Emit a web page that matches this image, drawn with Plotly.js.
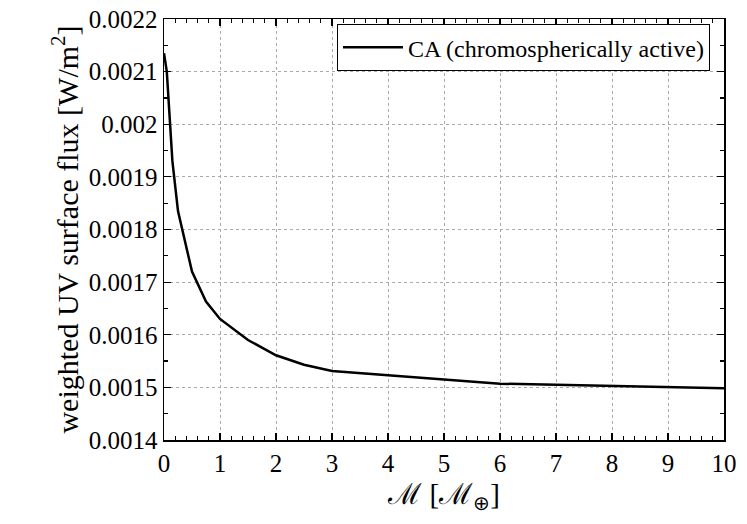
<!DOCTYPE html>
<html>
<head>
<meta charset="utf-8">
<script src="https://cdn.plot.ly/plotly-3.0.1.min.js"></script>
<style>
  html, body { margin: 0; padding: 0; background: #fff; }
  #graph { width: 747px; height: 524px; }
</style>
</head>
<body>
<div id="graph"></div>
<script>
// planet mass in Earth masses
var massa = [0, 0.05, 0.15, 0.25, 0.5, 0.75, 1, 1.5, 2, 2.5, 3, 6, 10];
// weighted UV surface flux, chromospherically active star
var fluxoCA = [0.002135, 0.0021, 0.00193, 0.001835, 0.00172, 0.001663, 0.00163,
               0.00159, 0.001561, 0.001543, 0.001531, 0.001507, 0.0014985];

var yTicks = [0.0014, 0.0015, 0.0016, 0.0017, 0.0018, 0.0019, 0.002, 0.0021, 0.0022];
var yTickText = ["0.0014", "0.0015", "0.0016", "0.0017", "0.0018", "0.0019", "0.002", "0.0021", "0.0022"];
var xTicks = [0, 1, 2, 3, 4, 5, 6, 7, 8, 9, 10];
var xTickText = ["0", "1", "2", "3", "4", "5", "6", "7", "8", "9", "10"];

var fonte = "Liberation Serif";

var trace1 = {
    x: massa,
    y: fluxoCA,
    name: "CA (chromospherically active)",
    type: "scatter",
    mode: "lines",
    line: { color: "#000", width: 2.5 }
};

var layout = {
    width: 747,
    height: 524,
    margin: { l: 164, r: 23, t: 19, b: 84 },
    paper_bgcolor: "#fff",
    plot_bgcolor: "#fff",
    showlegend: true,
    font: { family: fonte, size: 24, color: "#000" },
    xaxis: {
        range: [0, 10],
        showline: true,
        linecolor: "#000",
        linewidth: 1.5,
        mirror: "allticks",
        ticks: "inside",
        ticklen: 7,
        tickwidth: 1.2,
        tickcolor: "#000",
        showgrid: true,
        gridcolor: "#aaa",
        griddash: "dot",
        gridwidth: 1,
        zeroline: false,
        tickmode: "array",
        tickvals: xTicks,
        ticktext: xTickText,
        tickfont: { family: fonte, size: 25, color: "#000" },
        minor: { dtick: 0.2, ticks: "inside", ticklen: 4, tickcolor: "#000", showgrid: false },
        title: { text: "ℳ [ℳ<sub>⊕</sub>]", font: { family: fonte, size: 29, color: "#000" }, standoff: 8 }
    },
    yaxis: {
        range: [0.0014, 0.0022],
        showline: true,
        linecolor: "#000",
        linewidth: 1.5,
        mirror: "allticks",
        ticks: "inside",
        ticklen: 7,
        tickwidth: 1.2,
        tickcolor: "#000",
        showgrid: true,
        gridcolor: "#aaa",
        griddash: "dot",
        gridwidth: 1,
        zeroline: false,
        tickmode: "array",
        tickvals: yTicks,
        ticktext: yTickText,
        tickfont: { family: fonte, size: 25, color: "#000" },
        minor: { dtick: 0.00005, tick0: 0.0014, ticks: "inside", ticklen: 4, tickcolor: "#000", showgrid: false },
        title: { text: "weighted UV surface flux [W/m<sup>2</sup>]", font: { family: fonte, size: 30, color: "#000" }, standoff: 1 }
    },
    legend: {
        x: 0.975,
        y: 0.988,
        xanchor: "right",
        yanchor: "top",
        bgcolor: "#fff",
        bordercolor: "#000",
        borderwidth: 1,
        itemwidth: 60,
        font: { family: fonte, size: 24, color: "#000" }
    }
};

Plotly.newPlot("graph", [trace1], layout, { displayModeBar: false, staticPlot: true });
</script>
</body>
</html>
